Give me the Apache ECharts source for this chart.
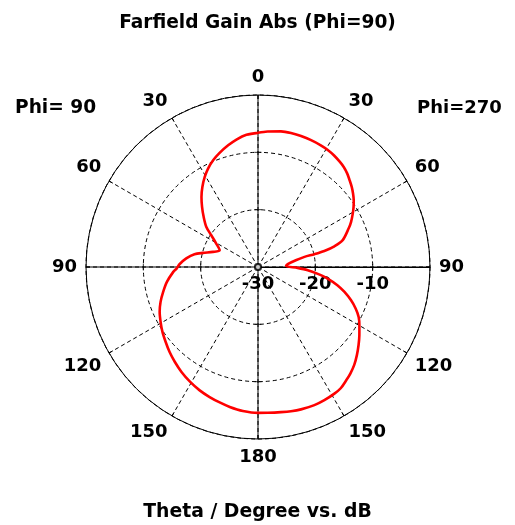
<!DOCTYPE html>
<html>
<head>
<meta charset="utf-8">
<script src="https://cdn.jsdelivr.net/npm/echarts@6/dist/echarts.min.js"></script>
<style>
  html, body { margin: 0; padding: 0; background: #ffffff; }
  #chart { width: 515px; height: 525px; }
</style>
</head>
<body>
<div id="chart"></div>
<script>
// Farfield cut at Phi=90 / Phi=270, gain in dB versus theta (degrees)
const thetaPhi270 = [0, 4, 9.6, 13.8, 18.2, 22.7, 27.3, 30.8, 34.3, 37.8, 40.6, 43.6, 46.5, 49.5, 52.3, 55.1, 57.8, 60.5, 64.1, 66.9, 72.4, 74.8, 76.4, 77.2, 77.7, 79.9, 84.6,
                     88.0, 91.3, 93.7, 96.6, 99.4, 102.9, 106.1, 109.6, 113.0, 116.4, 119.9, 123.9, 127.8, 131.7, 135.5, 139.1, 142.1, 145.7, 148.9, 153.5, 157.8, 163.2, 167.1, 171.0, 176.2, 180];
const gainPhi270  = [-6.6, -6.3, -6.0, -5.92, -5.96, -6.02, -6.12, -6.24, -6.45, -6.75, -7.02, -7.45, -7.98, -8.5, -9.05, -9.64, -10.3, -11.0, -11.95, -12.8, -14.5, -16.2, -18.1, -19.9, -21.7, -23.3, -24.8,
                     -25.1, -23.1, -21.3, -19.5, -17.7, -15.8, -14.3, -12.8, -11.5, -10.4, -9.6, -8.7, -7.8, -6.9, -6.05, -5.4, -4.95, -4.4, -4.2, -4.05, -3.98, -4.06, -4.2, -4.38, -4.52, -4.55];

const thetaPhi90 = [0, 5.0, 9.6, 13.8, 18.6, 22.8, 26.9, 30.6, 34.8, 38.9, 43.0, 47.3, 52.2, 55.7, 60.5, 66.3, 71.5, 75.6, 78.6, 83.2, 88.0,
                    91.1, 93.3, 99.3, 104.7, 109.7, 114.5, 119.4, 124.2, 129.1, 133.9, 138.7, 143.9, 149.3, 154.7, 159.6, 164.2, 168.6, 174.0, 180];
const gainPhi90  = [-6.6, -6.85, -7.45, -8.15, -9.0, -9.8, -10.75, -11.75, -13.0, -14.3, -15.7, -17.1, -18.6, -20.1, -21.6, -22.7, -21.7, -20.1, -18.7, -17.4, -16.3,
                    -15.8, -15.2, -13.9, -12.9, -11.95, -11.15, -10.5, -9.85, -9.25, -8.6, -8.0, -7.35, -6.75, -6.2, -5.8, -5.45, -5.1, -4.75, -4.55];

const dbMin = -30;
const dbMax = 0;
const dbStep = 10;
const thetaStep = 30;
const ringLevels = [-20, -10];

// The polar angle axis runs clockwise from 3 o'clock.
// Theta 0 sits at 12 o'clock; Phi=270 opens to the right, Phi=90 to the left.
const angleOfRight = t => (t + 270) % 360;
const angleOfLeft = t => (270 - t + 360) % 360;

const pattern = [];
thetaPhi270.forEach((t, i) => pattern.push([gainPhi270[i], angleOfRight(t)]));
for (let i = thetaPhi90.length - 1; i >= 0; i--) {
  pattern.push([gainPhi90[i], angleOfLeft(thetaPhi90[i])]);
}

const FONT = 'DejaVu Sans';
const chart = echarts.init(document.getElementById('chart'), null, { renderer: 'canvas' });

// solid diameters through the centre (theta 0-180 and the two 90 directions)
const diameter = (a0, a1) => ({
  type: 'line',
  coordinateSystem: 'polar',
  data: [[dbMax, a0], [dbMax, a1]],
  symbol: 'none',
  silent: true,
  lineStyle: { color: '#000', width: 1 },
  z: 3
});

// short tick marks where the dB rings cross the diameters
const ringTicks = (angles, size) => ({
  type: 'scatter',
  coordinateSystem: 'polar',
  data: ringLevels.flatMap(db => angles.map(a => [db, a])),
  symbol: 'rect',
  symbolSize: size,
  silent: true,
  itemStyle: { color: '#000' },
  z: 4
});

const labelStyle = { fontFamily: FONT, fontWeight: 'bold', fontSize: 18, color: '#000' };

chart.setOption({
  animation: false,
  backgroundColor: '#ffffff',
  title: [
    { text: 'Farfield Gain Abs (Phi=90)', left: 'center', top: 9,
      textStyle: Object.assign({}, labelStyle, { fontSize: 18.6 }) },
    { text: 'Phi= 90', left: 10, top: 94, textStyle: Object.assign({}, labelStyle, { fontSize: 18.6 }) },
    { text: 'Phi=270', left: 412, top: 94, textStyle: labelStyle },
    { text: 'Theta / Degree vs. dB', left: 'center', top: 498,
      textStyle: Object.assign({}, labelStyle, { fontSize: 18.8 }) }
  ],
  polar: { center: [258, 267], radius: 172 },
  angleAxis: {
    type: 'value',
    min: 0,
    max: 360,
    interval: thetaStep,
    startAngle: 0,
    clockwise: true,
    axisLine: { show: true, lineStyle: { color: '#000', width: 1 } },
    axisTick: { show: true, inside: true, length: 4, lineStyle: { color: '#000' } },
    axisLabel: Object.assign({
      margin: 9,
      formatter: v => {
        const t = (v + 90) % 360;
        return String(t <= 180 ? t : 360 - t);
      }
    }, labelStyle),
    splitLine: { show: true, lineStyle: { color: '#000', width: 1, type: [4, 3] } }
  },
  radiusAxis: {
    type: 'value',
    min: dbMin,
    max: dbMax,
    interval: dbStep,
    axisLine: { show: true, lineStyle: { color: '#000', width: 1 } },
    axisTick: { show: false },
    axisLabel: Object.assign({
      margin: -8,
      verticalAlign: 'top',
      formatter: v => (v === dbMax ? '' : String(v))
    }, labelStyle),
    splitLine: { show: true, lineStyle: { color: '#000', width: 1, type: [4, 3] } }
  },
  series: [
    diameter(270, 90),
    diameter(180, 0),
    ringTicks([90, 270], [7, 1]),
    ringTicks([0, 180], [1, 7]),
    {
      type: 'line',
      coordinateSystem: 'polar',
      data: pattern,
      symbol: 'none',
      smooth: 0.3,
      lineStyle: { color: '#ff0000', width: 2.6 },
      z: 5
    },
    {
      type: 'scatter',
      coordinateSystem: 'polar',
      data: [[dbMin, 0]],
      symbol: 'emptyCircle',
      symbolSize: 6,
      itemStyle: { color: '#000', borderWidth: 1.5 },
      z: 6
    }
  ]
});
</script>
</body>
</html>
